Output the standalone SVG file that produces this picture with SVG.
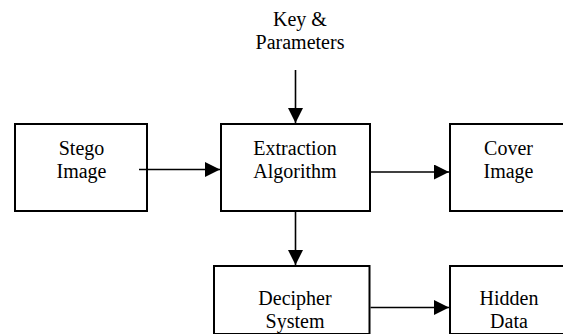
<svg xmlns="http://www.w3.org/2000/svg" width="563" height="334" viewBox="0 0 563 334">
<defs>
<marker id="ah" markerUnits="userSpaceOnUse" markerWidth="15" markerHeight="15" refX="15" refY="7.5" orient="auto">
<path d="M0,0 L15,7.5 L0,15 z" fill="#000"/>
</marker>
<style>
.box{fill:#fff;stroke:#000;stroke-width:2}
.t{font-size:20px;fill:#000;text-anchor:middle}
.c{stroke:#000;stroke-width:1.6;fill:none;marker-end:url(#ah)}
</style>
</defs>
<rect width="563" height="334" fill="#fff"/>
<g font-family="'Liberation Serif', 'Times New Roman', 'DejaVu Serif', serif">
<g id="key">
<text class="t" x="300" y="26">Key &amp;</text>
<text class="t" x="300" y="49">Parameters</text>
</g>
<g id="stego">
<rect class="box" x="15" y="124" width="132" height="87"/>
<text class="t" x="81.5" y="155">Stego</text>
<text class="t" x="81.5" y="178">Image</text>
</g>
<g id="extraction">
<rect class="box" x="221" y="124" width="149" height="87"/>
<text class="t" x="295" y="155">Extraction</text>
<text class="t" x="295" y="178">Algorithm</text>
</g>
<g id="cover">
<rect class="box" x="450" y="124" width="118" height="87"/>
<text class="t" x="508.5" y="155">Cover</text>
<text class="t" x="508.5" y="178">Image</text>
</g>
<g id="decipher">
<rect class="box" x="214" y="266" width="155.5" height="68"/>
<text class="t" x="295" y="305">Decipher</text>
<text class="t" x="295" y="328">System</text>
</g>
<g id="hidden">
<rect class="box" x="450" y="266" width="118" height="68"/>
<text class="t" x="509" y="305">Hidden</text>
<text class="t" x="509" y="328">Data</text>
</g>
</g>
<g id="connectors">
<line class="c" x1="295.5" y1="70" x2="295.5" y2="123"/>
<line class="c" x1="139" y1="169.5" x2="220" y2="169.5"/>
<line class="c" x1="371" y1="172" x2="449" y2="172"/>
<line class="c" x1="295.5" y1="212" x2="295.5" y2="265"/>
<line class="c" x1="370.5" y1="307.5" x2="449" y2="307.5"/>
</g>
</svg>
